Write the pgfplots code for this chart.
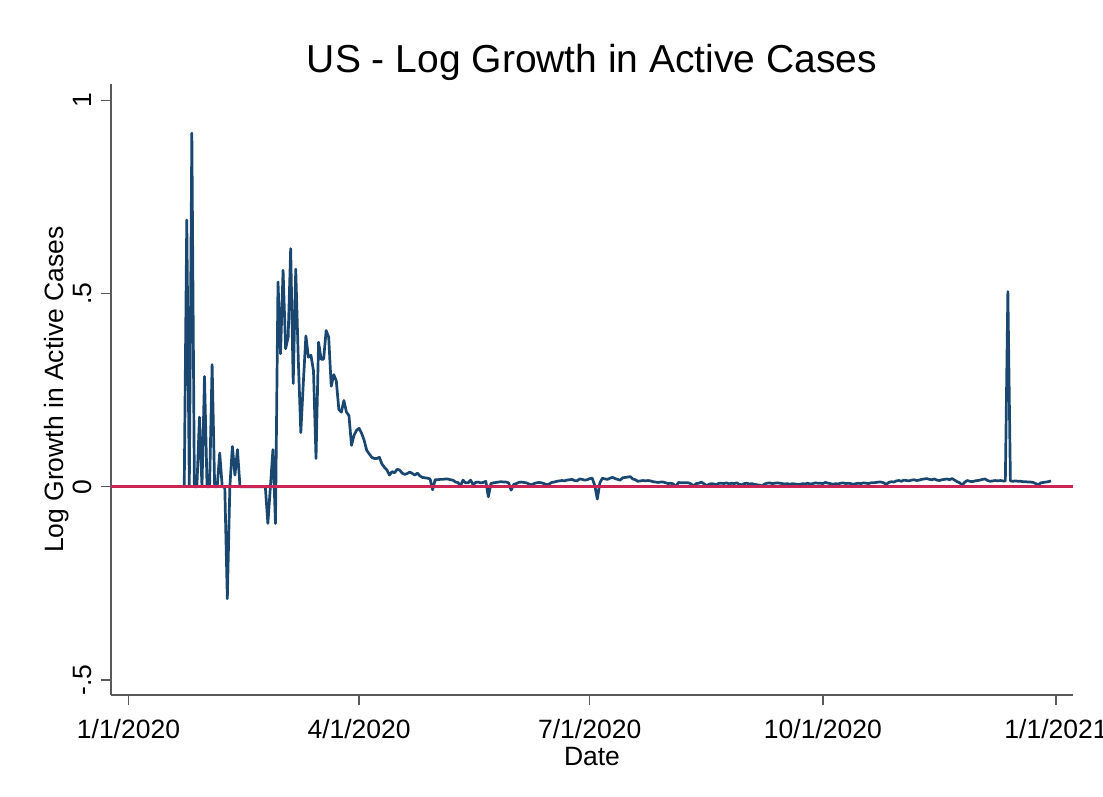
\documentclass[border=0pt]{standalone}
\usepackage{fontspec}
\setmainfont{Liberation Sans}
\usepackage{pgfplots}
\pgfplotsset{compat=1.18}
\definecolor{stnavy}{RGB}{26,71,111}
\definecolor{zred}{RGB}{204,36,84}
\definecolor{axgray}{RGB}{90,90,90}
\begin{document}
\begin{tikzpicture}
\begin{axis}[
  scale only axis,
  width=962pt, height=611pt,
  xmin=-6.9, xmax=372.7,
  ymin=-0.539, ymax=1.042,
  axis x line*=bottom, axis y line*=left,
  axis line style={axgray, line width=1.3pt, -},
  tick align=outside,
  major tick length=10pt,
  tick style={axgray, line width=1.3pt},
  xtick={0,91,182,274,366},
  xticklabels={1/1/2020,4/1/2020,7/1/2020,10/1/2020,1/1/2021},
  ytick={-0.5,0,0.5,1},
  yticklabels={-.5,0,.5,1},
  every tick label/.append style={font=\fontsize{26.5}{29}\selectfont, text=black},
  xticklabel style={anchor=base, yshift=-33pt},
  yticklabel style={rotate=90, anchor=base, yshift=9pt},
  xlabel={Date},
  ylabel={Log Growth in Active Cases},
  label style={font=\fontsize{26.5}{29}\selectfont},
  xlabel style={at={(axis description cs:0.5,0)}, anchor=base, yshift=-70pt},
  ylabel style={at={(axis description cs:0,0.5)}, anchor=base, yshift=47pt},
  title={US - Log Growth in Active Cases},
  title style={at={(axis description cs:0.5,1)}, anchor=base, yshift=5pt, font=\fontsize{39}{42}\selectfont},
]
\coordinate (SW) at (rel axis cs:0,0);
\coordinate (NE) at (rel axis cs:1,1);
\addplot[stnavy, line width=2.7pt, line join=round, mark=none] table {
x y
22 0
23 0.69
24 0
25 0.915
26 0
27 0
28 0.18
29 0
30 0.285
31 0
32 0
33 0.316
34 0
35 0
36 0.087
37 0
38 0
39 -0.29
40 0
41 0.104
42 0.03
43 0.096
44 0
45 0
46 0
47 0
48 0
49 0
50 0
51 0
52 0
53 0
54 0
55 -0.095
56 0
57 0.096
58 -0.095
59 0.53
60 0.344
61 0.56
62 0.357
63 0.387
64 0.616
65 0.267
66 0.563
67 0.33
68 0.14
69 0.27
70 0.39
71 0.335
72 0.34
73 0.30
74 0.073
75 0.374
76 0.33
77 0.33
78 0.404
79 0.387
80 0.26
81 0.29
82 0.274
83 0.20
84 0.193
85 0.223
86 0.193
87 0.184
88 0.107
89 0.133
90 0.146
91 0.151
92 0.138
93 0.12
94 0.094
95 0.085
96 0.076
97 0.073
98 0.073
99 0.076
100 0.059
101 0.05
102 0.043
103 0.03
104 0.039
105 0.036
106 0.045
107 0.043
108 0.035
109 0.032
110 0.034
111 0.038
112 0.034
113 0.030
114 0.035
115 0.028
116 0.024
117 0.023
118 0.022
119 0.020
120 -0.008
121 0.018
122 0.018
123 0.019
124 0.019
125 0.020
126 0.020
127 0.018
128 0.017
129 0.012
130 0.011
131 0.002
132 0.017
133 0.010
134 0.010
135 0.017
136 0.005
137 0.011
138 0.012
139 0.010
140 0.011
141 0.014
142 -0.026
143 0.008
144 0.010
145 0.011
146 0.012
147 0.013
148 0.012
149 0.012
150 0.010
151 -0.009
152 0.006
153 0.008
154 0.011
155 0.012
156 0.011
157 0.010
158 0.007
159 0.005
160 0.008
161 0.010
162 0.011
163 0.010
164 0.008
165 0.005
166 0.007
167 0.011
168 0.012
169 0.014
170 0.015
171 0.016
172 0.015
173 0.017
174 0.018
175 0.019
176 0.016
177 0.015
178 0.020
179 0.019
180 0.017
181 0.018
182 0.021
183 0.022
184 0.003
185 -0.032
186 0.010
187 0.022
188 0.020
189 0.019
190 0.022
191 0.024
192 0.021
193 0.019
194 0.017
195 0.023
196 0.024
197 0.025
198 0.026
199 0.020
200 0.018
201 0.014
202 0.015
203 0.016
204 0.015
205 0.016
206 0.015
207 0.013
208 0.012
209 0.011
210 0.012
211 0.012
212 0.010
213 0.008
214 0.009
215 0.007
216 0.000
217 0.011
218 0.010
219 0.010
220 0.010
221 0.010
222 0.007
223 0.002
224 0.008
225 0.009
226 0.012
227 0.008
228 0.003
229 0.006
230 0.008
231 0.007
232 0.005
233 0.009
234 0.009
235 0.008
236 0.010
237 0.007
238 0.009
239 0.008
240 0.010
241 0.006
242 0.005
243 0.008
244 0.009
245 0.007
246 0.008
247 0.006
248 0.005
249 0.004
250 0.002
251 0.007
252 0.009
253 0.010
254 0.008
255 0.009
256 0.010
257 0.009
258 0.008
259 0.007
260 0.008
261 0.006
262 0.008
263 0.007
264 0.006
265 0.006
266 0.008
267 0.007
268 0.009
269 0.007
270 0.008
271 0.010
272 0.009
273 0.009
274 0.008
275 0.011
276 0.009
277 0.008
278 0.006
279 0.008
280 0.007
281 0.009
282 0.010
283 0.008
284 0.009
285 0.008
286 0.006
287 0.008
288 0.009
289 0.008
290 0.010
291 0.009
292 0.008
293 0.010
294 0.010
295 0.011
296 0.012
297 0.012
298 0.010
299 0.006
300 0.011
301 0.013
302 0.012
303 0.015
304 0.016
305 0.014
306 0.017
307 0.016
308 0.015
309 0.017
310 0.018
311 0.016
312 0.017
313 0.019
314 0.020
315 0.021
316 0.019
317 0.018
318 0.020
319 0.017
320 0.016
321 0.018
322 0.019
323 0.020
324 0.018
325 0.021
326 0.017
327 0.013
328 0.010
329 0.004
330 0.012
331 0.016
332 0.014
333 0.013
334 0.015
335 0.016
336 0.017
337 0.019
338 0.020
339 0.016
340 0.014
341 0.015
342 0.016
343 0.015
344 0.016
345 0.015
346 0.015
347 0.505
348 0.015
349 0.014
350 0.015
351 0.014
352 0.014
353 0.013
354 0.013
355 0.012
356 0.012
357 0.011
358 0.008
359 0.005
360 0.010
361 0.011
362 0.012
363 0.013
364 0.015
};
\addplot[zred, line width=2.6pt, mark=none] coordinates {(-6.9,0) (372.7,0)};
\end{axis}
\pgfresetboundingbox
\path[use as bounding box] ([xshift=-111pt,yshift=-101pt]SW) rectangle ([xshift=30pt,yshift=84pt]NE);
\end{tikzpicture}
\end{document}
